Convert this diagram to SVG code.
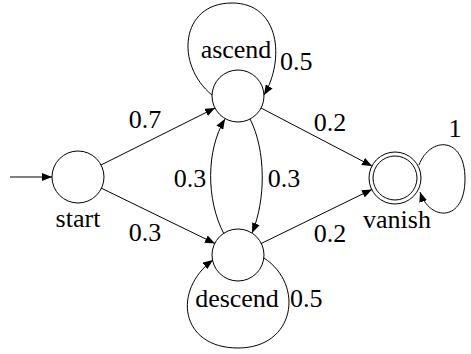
<svg xmlns="http://www.w3.org/2000/svg" width="471" height="354" viewBox="0 0 471 354">
<style>
.n{fill:none;stroke:#000;stroke-width:1}
.e{fill:none;stroke:#000;stroke-width:1;marker-end:url(#ah)}
.t{font-family:'Liberation Serif','Times New Roman',Times,serif;font-size:26px;fill:#000}
.m{text-anchor:middle}
</style>
<defs>
<marker id="ah" markerUnits="userSpaceOnUse" markerWidth="10" markerHeight="8" viewBox="0 0 10 8" refX="10" refY="4" orient="auto">
<path d="M0,0 L10,4 L0,8 z" fill="#000"/>
</marker>
</defs>
<rect width="471" height="354" fill="#fff"/>
<g id="start"><circle class="n" cx="78" cy="177" r="26"/><text class="t m" x="78" y="227">start</text></g>
<g id="ascend"><circle class="n" cx="238" cy="96" r="26"/><text class="t m" x="236" y="58">ascend</text></g>
<g id="descend"><circle class="n" cx="238" cy="255" r="26"/><text class="t m" x="237" y="307">descend</text></g>
<g id="vanish"><circle class="n" cx="395" cy="178" r="26"/><circle class="n" cx="395" cy="178" r="22"/><text class="t m" x="397" y="228">vanish</text></g>
<g id="edges">
<line class="e" x1="10" y1="177" x2="52" y2="177"/>
<line class="e" x1="101" y1="165" x2="215" y2="108"/>
<text class="t m" x="145" y="128">0.7</text>
<line class="e" x1="101" y1="188" x2="215" y2="243.5"/>
<text class="t m" x="145" y="241">0.3</text>
<line class="e" x1="261" y1="108" x2="372" y2="166"/>
<text class="t m" x="330" y="131">0.2</text>
<line class="e" x1="261" y1="243.6" x2="372" y2="189.4"/>
<text class="t m" x="330" y="242">0.2</text>
<path class="e" d="M250,119 C266,150 266,200 252,233"/>
<text class="t m" x="284" y="187">0.3</text>
<path class="e" d="M224,234 C206,200 206,150 225,119"/>
<text class="t m" x="190" y="187">0.3</text>
<path class="e" d="M212,95 C175,65 180,3 232,3 C280,3 285,60 264,95"/>
<text class="t" x="280" y="70">0.5</text>
<path class="e" d="M264,258 C305,285 295,348 238,348 C180,348 172,290 213,260"/>
<text class="t" x="290" y="307">0.5</text>
<path class="e" d="M419,165 C430,136 465,136 465,179 C465,222 430,222 420,192"/>
<text class="t m" x="455" y="137">1</text>
</g>
</svg>
